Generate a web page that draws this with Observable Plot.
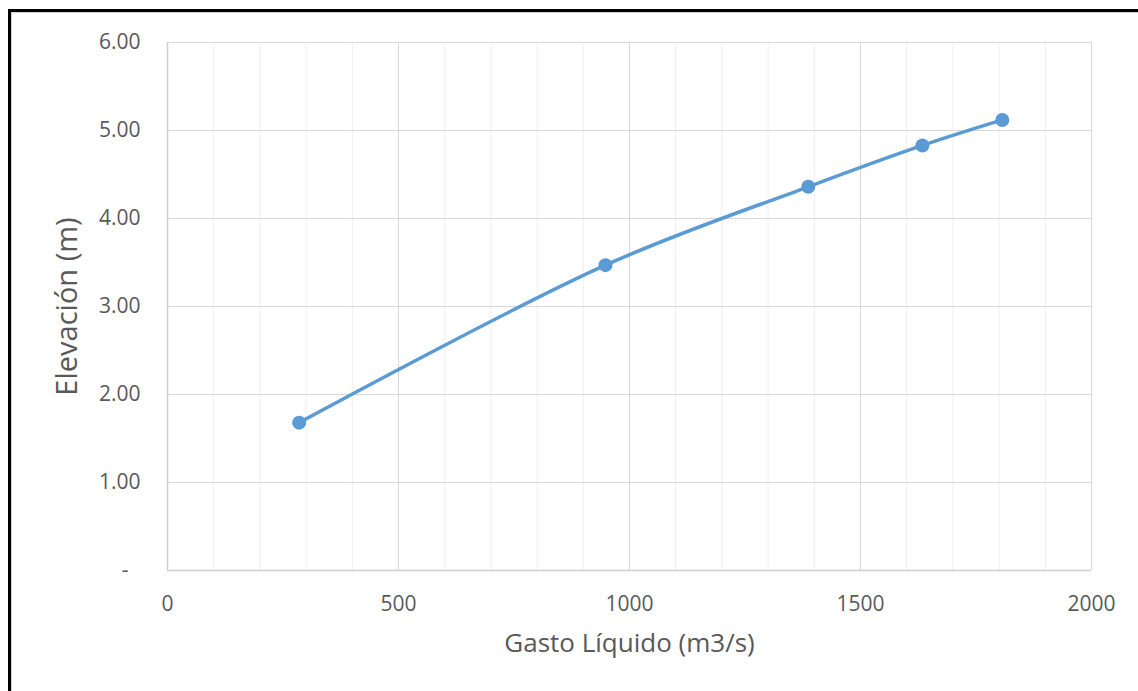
<!DOCTYPE html>
<html>
<head>
<meta charset="utf-8">
<script src="https://cdn.jsdelivr.net/npm/d3@7"></script>
<script src="https://cdn.jsdelivr.net/npm/@observablehq/plot@0.6"></script>
<style>
  html, body { margin: 0; padding: 0; background: #fff; }
  #wrap { position: relative; width: 1138px; height: 691px; overflow: hidden; }
  #frame { position: absolute; left: 8px; top: 9px; width: 1140px; height: 700px;
           border-left: 3px solid #000; border-top: 3px solid #000; box-sizing: border-box; }
  #frame2 { position: absolute; left: 11px; top: 12px; width: 1140px; height: 700px;
           border-left: 1px solid #d0d0d0; border-top: 1px solid #d0d0d0; box-sizing: border-box; }
  #chart { position: absolute; left: 0; top: 0; }
</style>
</head>
<body>
<div id="wrap">
  <div id="chart"></div>
  <div id="frame"></div>
  <div id="frame2"></div>
</div>
<script>
// Data
const gasto = [285, 948, 1387, 1634, 1807];        // Gasto Líquido (m3/s)
const elevacion = [1.68, 3.47, 4.36, 4.83, 5.12];  // Elevación (m)

// Tick values
const xMajorTicks = [0, 500, 1000, 1500, 2000];
const xMinorTicks = [100, 200, 300, 400, 600, 700, 800, 900, 1100, 1200, 1300, 1400, 1600, 1700, 1800, 1900];
const yTicks = [0, 1, 2, 3, 4, 5, 6];

const xTitle = "Gasto Líquido (m3/s)";
const yTitle = "Elevación (m)";

const data = gasto.map((g, i) => ({gasto: g, elevacion: elevacion[i]}));

const textColor = "#595959";
const font = "'Open Sans', 'Noto Sans', sans-serif";

const chart = Plot.plot({
  width: 1138,
  height: 691,
  marginLeft: 167,
  marginRight: 47,
  marginTop: 42,
  marginBottom: 121,
  style: { fontFamily: font, color: textColor, background: "transparent", overflow: "visible" },
  x: { domain: [0, 2000] },
  y: { domain: [0, 6] },
  marks: [
    Plot.ruleX(xMinorTicks, { stroke: "#efefef", strokeWidth: 1 }),
    Plot.ruleX(xMajorTicks.filter(d => d > 0), { stroke: "#d9d9d9", strokeWidth: 1 }),
    Plot.ruleY(yTicks.filter(d => d > 0), { stroke: "#d9d9d9", strokeWidth: 1 }),
    Plot.ruleX([0], { stroke: "#cfcfcf", strokeWidth: 1.5 }),
    Plot.ruleY([0], { stroke: "#cfcfcf", strokeWidth: 1.5 }),
    Plot.axisX(xMajorTicks, {
      tickSize: 0, tickPadding: 26, fontSize: 21, fill: textColor, label: null,
      tickFormat: d => String(d)
    }),
    Plot.axisY(yTicks, {
      tickSize: 0, tickPadding: 27, fontSize: 21, fill: textColor, label: null,
      tickFormat: d => d === 0 ? "-\u2007" : d.toFixed(2)
    }),
    Plot.line(data, {
      x: "gasto", y: "elevacion", curve: "catmull-rom",
      stroke: "#5b9bd5", strokeWidth: 3.5
    }),
    Plot.dot(data, {
      x: "gasto", y: "elevacion", r: 7, fill: "#5b9bd5", stroke: "none"
    }),
    Plot.text([xTitle], {
      frameAnchor: "bottom", lineAnchor: "middle", dy: 73, fontSize: 26, fill: textColor, text: d => d
    }),
    Plot.text([yTitle], {
      frameAnchor: "left", textAnchor: "middle", lineAnchor: "middle", dx: -100, rotate: -90,
      fontSize: 29, fill: textColor, text: d => d
    })
  ]
});

document.getElementById("chart").appendChild(chart);
</script>
</body>
</html>
